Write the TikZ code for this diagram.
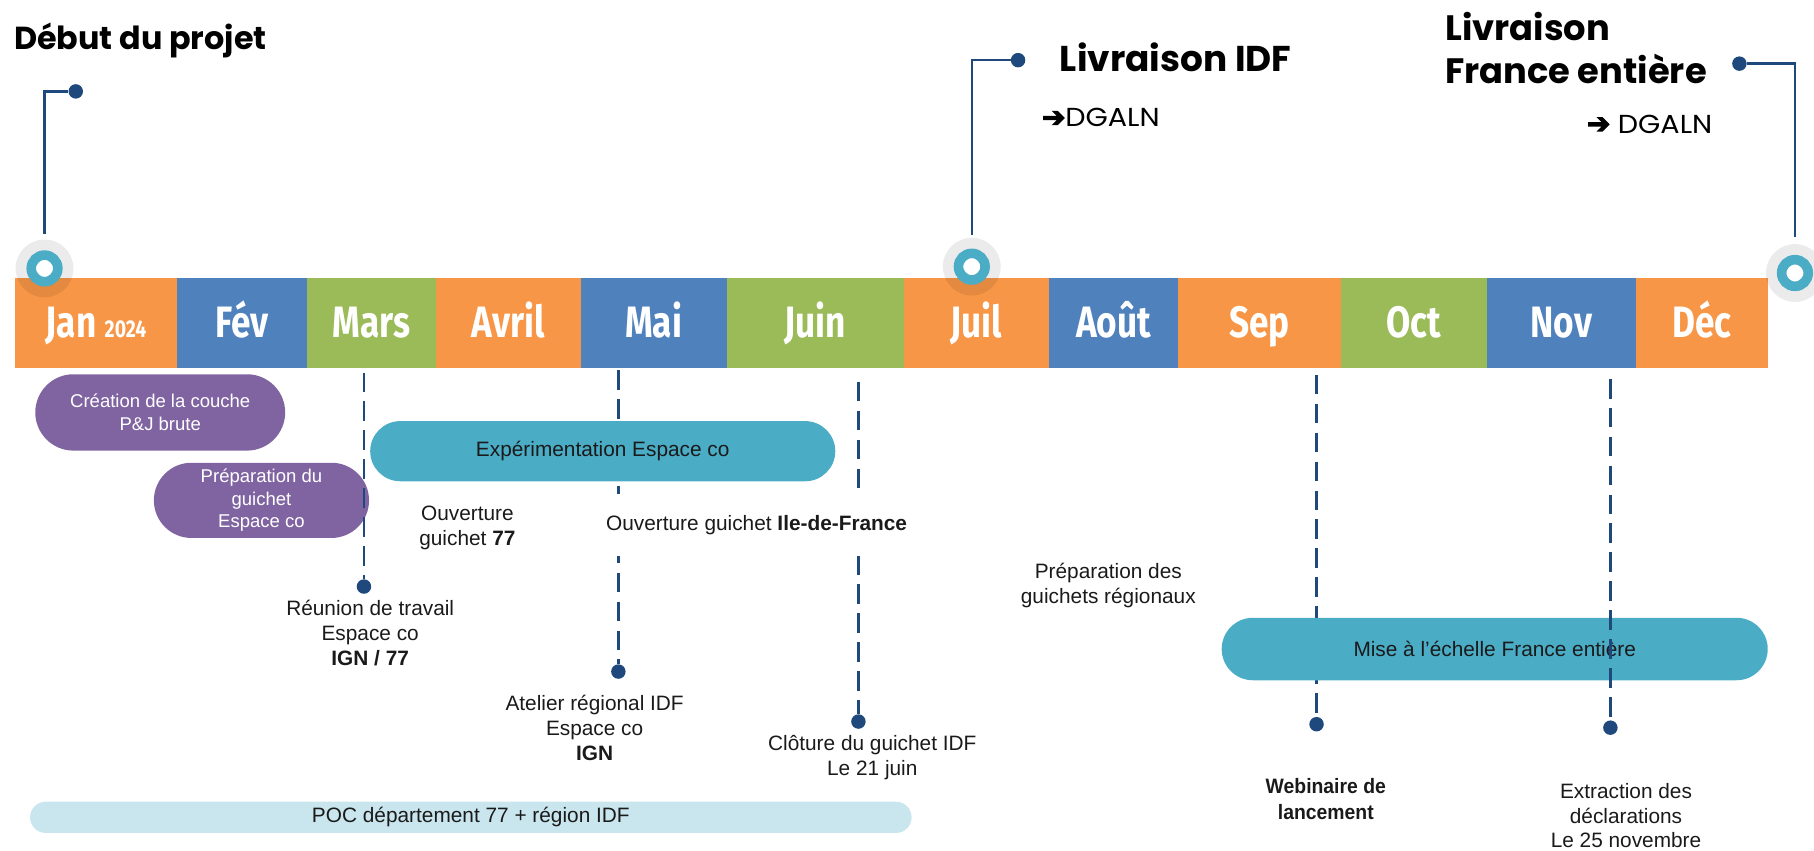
\documentclass[tikz,border=0pt]{standalone}
\usepackage{fontspec}
\setmainfont{Liberation Sans}
\newfontfamily\headfont{Poppins}
\newfontfamily\dgfont[FakeStretch=1.1]{Poppins}
\newfontfamily\monthfont[FakeStretch=0.8]{Fira Sans}
\newfontfamily\arrowfont[FakeBold=4]{DejaVu Sans}
\newfontfamily\condfont[FakeStretch=0.93]{Liberation Sans}
\usetikzlibrary{shapes.misc}
\definecolor{corange}{HTML}{F79646}
\definecolor{cblue}{HTML}{4F81BD}
\definecolor{cgreen}{HTML}{9BBB59}
\definecolor{cpurple}{HTML}{8064A2}
\definecolor{cteal}{HTML}{4BACC6}
\definecolor{clight}{HTML}{C9E5EE}
\definecolor{cnavy}{HTML}{1F497D}
\definecolor{ctext}{HTML}{1A1A1A}
\tikzset{
  month/.style={rectangle, inner sep=0pt, minimum height=78pt, text=white,
    font=\monthfont\bfseries\fontsize{38}{38}\selectfont, text height=26pt, text depth=0pt},
  halo/.style={circle, fill=black, fill opacity=0.08, minimum size=50pt, inner sep=0pt},
  ring/.style={circle, draw=cteal, line width=8.3pt, fill=white, minimum size=23pt, inner sep=0pt},
  dot/.style={circle, fill=cnavy, minimum size=12.5pt, inner sep=0pt},
  conn/.style={draw=cnavy, line width=2pt},
  dline/.style={draw=cnavy, line width=2pt, dash pattern=on 17pt off 8pt},
  pill/.style={rounded rectangle, inner sep=0pt, align=center},
  pillP/.style={pill, fill=cpurple, text=white, font=\fontsize{16}{19.5}\selectfont},
  pillT/.style={pill, fill=cteal, text=ctext, font=\fontsize{18}{21.5}\selectfont},
  lbl/.style={align=center, text=ctext, inner sep=1pt, font=\fontsize{18}{21.5}\selectfont},
  head/.style={anchor=base west, inner sep=0pt, text=black, font=\headfont\bfseries},
  dgaln/.style={anchor=base west, inner sep=0pt, text=black, font=\dgfont\fontsize{22.5}{22.5}\selectfont},
}
\newcommand{\bigarrow}{{\arrowfont\fontsize{24}{24}\selectfont ➔}}
\begin{document}
\begin{tikzpicture}[x=1pt,y=-1pt]
\useasboundingbox (0,0) rectangle (1568,735);

% month bar
\node[month, fill=corange, minimum width=140pt] (jan) at (83,279) {Jan {\fontsize{21}{21}\selectfont 2024}};
\node[month, fill=cblue, minimum width=112pt] (fev) at (209,279) {Fév};
\node[month, fill=cgreen, minimum width=112pt] (mars) at (321,279) {Mars};
\node[month, fill=corange, minimum width=125pt] (avril) at (439.5,279) {Avril};
\node[month, fill=cblue, minimum width=126pt] (mai) at (565,279) {Mai};
\node[month, fill=cgreen, minimum width=153pt] (juin) at (704.5,279) {Juin};
\node[month, fill=corange, minimum width=126pt] (juil) at (844,279) {Juil};
\node[month, fill=cblue, minimum width=111pt] (aout) at (962.5,279) {Août};
\node[month, fill=corange, minimum width=141pt] (sep) at (1088.5,279) {Sep};
\node[month, fill=cgreen, minimum width=126pt] (oct) at (1222,279) {Oct};
\node[month, fill=cblue, minimum width=129pt] (nov) at (1349.5,279) {Nov};
\node[month, fill=corange, minimum width=114pt] (dec) at (1471,279) {Déc};

% milestones
\node[halo] (h1) at (38.5,232) {};
\node[ring] (m1) at (38.5,232) {};
\node[halo] (h2) at (840,230.5) {};
\node[ring] (m2) at (840,230.5) {};
\node[halo] (h3) at (1551.5,236) {};
\node[ring] (m3) at (1551.5,236) {};

\coordinate (c1) at (38.5,202);
\node[dot] (d1) at (65.5,79) {};
\draw[conn] (c1) |- (d1);
\coordinate (c2) at (840,203);
\node[dot] (d2) at (880,52) {};
\draw[conn] (c2) |- (d2);
\coordinate (c3) at (1551.5,205);
\node[dot] (d3) at (1503.5,55) {};
\draw[conn] (c3) |- (d3);

% headings
\node[head, font=\headfont\bfseries\fontsize{27.5}{27.5}\selectfont] (debut) at (12,43) {Début du projet};
\node[head, font=\headfont\bfseries\fontsize{31}{31}\selectfont] (lividf) at (916,61.4) {Livraison IDF};
\node[head, font=\headfont\bfseries\fontsize{30.5}{30.5}\selectfont] (livfr1) at (1249,34.6) {Livraison};
\node[head, font=\headfont\bfseries\fontsize{30.5}{30.5}\selectfont] (livfr2) at (1249,72) {France entière};
\node[dgaln] (dg1) at (900.6,109.5) {\bigarrow DGALN};
\node[dgaln] (dg2) at (1371.6,115) {\bigarrow\ DGALN};

% dashed lines behind pills
\coordinate (maiT) at (534.5,320);
\node[dot] (maiD) at (534.5,580.5) {};
\draw[dline] (maiT) -- (maiD);
\coordinate (sepT) at (1138,324);
\node[dot] (sepD) at (1138,626) {};
\draw[dline] (sepT) -- (sepD);
\coordinate (juinT) at (742,330);
\node[dot] (juinD) at (742,623.7) {};
\draw[dline] (juinT) -- (juinD);

% pills
\node[pillP, minimum width=216pt, minimum height=66pt] (crea) at (138.5,356.5) {Création de la couche\\P\&J brute};
\node[pillP, minimum width=186pt, minimum height=65pt] (prep) at (226,432.5) {Préparation du\\guichet\\Espace co};
\node[pillT, minimum width=402pt, minimum height=52pt] (exp) at (521,390) {Expérimentation Espace co};
\node[pillT, minimum width=472pt, minimum height=54pt] (mise) at (1292,561) {Mise à l’échelle France entière};
\node[pill, fill=clight, text=ctext, font=\fontsize{18}{21.5}\selectfont, minimum width=762pt, minimum height=27pt] (poc) at (407,706.5) {POC département 77 + région IDF};

% dashed lines over pills
\coordinate (marsT) at (314.6,322);
\node[dot] (marsD) at (314.6,507) {};
\draw[dline] (marsT) -- (marsD);
\coordinate (novT) at (1392,327.5);
\node[dot] (novD) at (1392,629) {};
\draw[dline] (novT) -- (novD);

% labels
\node[lbl, fill=white, minimum height=54pt, inner xsep=2pt] (ouvidf) at (654,454) {Ouverture guichet \textbf{Ile-de-France}};
\node[lbl] (ouv77) at (404,456) {Ouverture\\guichet \textbf{77}};
\node[lbl] (reunion) at (320,547) {Réunion de travail\\Espace co\\\textbf{IGN / 77}};
\node[lbl] (atelier) at (514,629) {Atelier régional IDF\\Espace co\\\textbf{IGN}};
\node[lbl] (cloture) at (754,655) {Clôture du guichet IDF\\Le 21 juin};
\node[lbl] (prepreg) at (958,506) {Préparation des\\guichets régionaux};
\node[lbl, font=\condfont\bfseries\fontsize{18}{22.5}\selectfont] (webi) at (1146,690.5) {Webinaire de\\lancement};
\node[lbl] (extr) at (1405.5,705) {Extraction des\\déclarations\\Le 25 novembre};
\end{tikzpicture}
\end{document}
